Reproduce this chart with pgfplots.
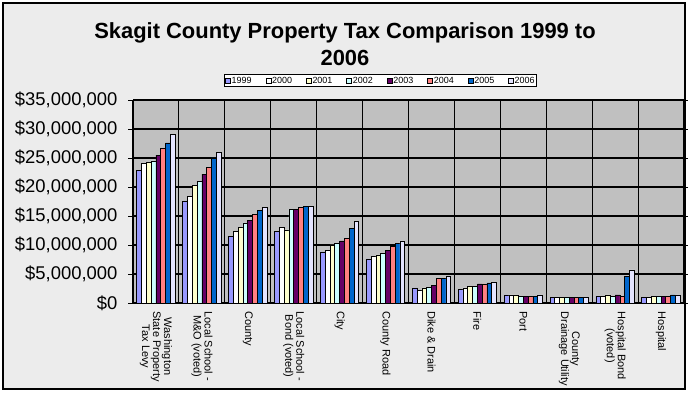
\documentclass[border=0pt]{standalone}
\usepackage{pgfplots}
\pgfplotsset{compat=1.18}
\usepackage{pgfplotstable}
\usepackage{fontspec}
\setmainfont{Liberation Sans}
\definecolor{bgc}{RGB}{236,236,236}
\definecolor{plotgray}{RGB}{192,192,192}
\definecolor{c1999}{RGB}{153,153,255}
\definecolor{c2000}{RGB}{255,255,255}
\definecolor{c2001}{RGB}{255,255,204}
\definecolor{c2002}{RGB}{204,255,255}
\definecolor{c2003}{RGB}{102,0,102}
\definecolor{c2004}{RGB}{255,128,128}
\definecolor{c2005}{RGB}{0,102,204}
\definecolor{c2006}{RGB}{228,228,255}

\pgfplotstableread{
idx y1999 y2000 y2001 y2002 y2003 y2004 y2005 y2006
0 22800000 24100000 24300000 24500000 25500000 26700000 27600000 29000000
1 17600000 18400000 20200000 21000000 22200000 23400000 25000000 26000000
2 11550000 12400000 13100000 13800000 14300000 15200000 15900000 16550000
3 12400000 13100000 12600000 16200000 16200000 16550000 16700000 16700000
4 8800000 9100000 10000000 10300000 10700000 11200000 12900000 14100000
5 7600000 8100000 8300000 8600000 9100000 9700000 10300000 10700000
6 2600000 2200000 2600000 2750000 3100000 4250000 4250000 4650000
7 2400000 2600000 2900000 2900000 3300000 3300000 3450000 3600000
8 1380000 1380000 1380000 1150000 1150000 1150000 1150000 1380000
9 1030000 1030000 1030000 1030000 1030000 1030000 1030000 1030000
10 1200000 1200000 1380000 1200000 1380000 1200000 4650000 5700000
11 1030000 1030000 1200000 1200000 1200000 1200000 1380000 1380000
}\datatable

\begin{document}
\begin{tikzpicture}
\useasboundingbox (0bp,0bp) rectangle (688bp,394bp);
\draw[line width=1.2bp, fill=bgc] (3bp,5bp) rectangle (685bp,391bp);
\node[anchor=base, inner sep=0pt, font=\fontsize{22}{26}\selectfont\bfseries] at (345bp,355bp) {Skagit County Property Tax Comparison 1999 to};
\node[anchor=base, inner sep=0pt, font=\fontsize{22}{26}\selectfont\bfseries] at (345bp,328bp) {2006};
\begin{axis}[
  at={(133bp,91bp)}, anchor=south west,
  scale only axis, width=551bp, height=203bp,
  axis background/.style={fill=plotgray},
  ybar=0pt, bar width=4.8bp,
  xmin=-0.5, xmax=11.5,
  ymin=0, ymax=35000000,
  ytick={0,5000000,10000000,15000000,20000000,25000000,30000000,35000000},
  yticklabels={{\$0},{\$5,000,000},{\$10,000,000},{\$15,000,000},{\$20,000,000},{\$25,000,000},{\$30,000,000},{\$35,000,000}},
  scaled y ticks=false,
  ymajorgrids,
  grid style={black, line width=1.1bp},
  axis line style={black, line width=1bp},
  tick align=outside,
  major tick length=5bp,
  tick style={black, line width=0.9bp},
  xtick={0,...,11},
  xtick style={draw=none},
  xticklabels={{Washington\\State Property\\Tax Levy},{Local School -\\M\&O (voted)},{County},{Local School -\\Bond (voted)},{City},{County Road},{Dike \& Drain},{Fire},{Port},{County\\Drainage Utility},{Hospital Bond\\(voted)},{Hospital}},
  xticklabel style={rotate=-90, anchor=west, align=center, font=\fontsize{11}{11}\selectfont},
  extra x ticks={-0.5,0.5,...,11.5},
  extra x tick labels={},
  extra x tick style={grid=major, tick style={draw=black, line width=0.9bp}, major tick length=4bp},
  yticklabel style={font=\fontsize{18.5}{18.5}\selectfont, xshift=-7bp},
  legend columns=8,
  legend style={at={(0.449,1.064)}, anchor=south, draw=black, line width=0.8bp, fill=white,
    font=\fontsize{9}{9}\selectfont, inner sep=1bp,
    /tikz/every even column/.append style={column sep=13bp},
    nodes={inner sep=1bp}},
  legend image code/.code={\draw[#1, draw=black, line width=0.5bp] (0bp,-2.5bp) rectangle (5bp,2.5bp);},
  every axis plot/.append style={draw=black, line width=0.7bp},
]
\addplot[fill=c1999] table[x=idx,y=y1999]{\datatable};
\addplot[fill=c2000] table[x=idx,y=y2000]{\datatable};
\addplot[fill=c2001] table[x=idx,y=y2001]{\datatable};
\addplot[fill=c2002] table[x=idx,y=y2002]{\datatable};
\addplot[fill=c2003] table[x=idx,y=y2003]{\datatable};
\addplot[fill=c2004] table[x=idx,y=y2004]{\datatable};
\addplot[fill=c2005] table[x=idx,y=y2005]{\datatable};
\addplot[fill=c2006] table[x=idx,y=y2006]{\datatable};
\legend{1999,2000,2001,2002,2003,2004,2005,2006}
\end{axis}
\end{tikzpicture}
\end{document}
